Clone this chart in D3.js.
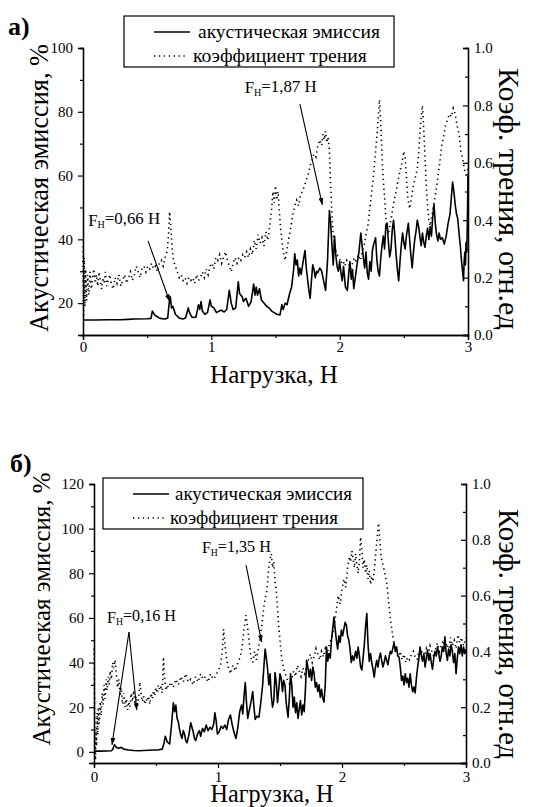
<!DOCTYPE html>
<html>
<head>
<meta charset="utf-8">
<script src="https://cdn.jsdelivr.net/npm/d3@7/dist/d3.min.js"></script>
<style>
  body { margin: 0; background: #fff; }
  svg { display: block; }
</style>
</head>
<body>
<div id="chart"></div>
<script>
// ---- data: [load, value] ----
// panel a: acoustic emission, %
const emissionA = [
  [0,14.7],[0.1,14.7],[0.2,14.8],[0.3,14.8],[0.35,14.9],[0.4,15.0],[0.5,15.1],[0.53,15.2],[0.54,17.5],[0.56,16.2],
  [0.6,15.2],[0.64,15.0],[0.66,15.3],[0.67,19.5],[0.68,22.0],[0.69,18.5],[0.70,19.0],[0.72,16.5],[0.75,15.3],[0.78,15.0],
  [0.80,15.4],[0.82,18.5],[0.83,17.0],[0.85,15.5],[0.88,15.6],[0.90,19.5],[0.91,18.0],[0.92,20.5],[0.93,17.5],[0.95,16.5],
  [0.97,17.0],[0.99,21.0],[1.00,19.0],[1.02,18.5],[1.04,17.0],[1.06,17.5],[1.08,17.8],[1.10,17.2],[1.12,18.0],[1.14,24.0],
  [1.155,20.0],[1.17,18.0],[1.19,18.5],[1.21,26.7],[1.22,23.0],[1.24,22.0],[1.25,20.5],[1.27,21.5],[1.29,19.0],[1.31,20.5],
  [1.33,26.0],[1.34,22.5],[1.35,25.0],[1.36,22.5],[1.375,24.5],[1.39,21.0],[1.41,20.0],[1.43,19.0],[1.45,18.5],[1.47,17.5],
  [1.49,17.0],[1.51,16.5],[1.535,16.3],[1.55,19.5],[1.56,18.0],[1.575,20.0],[1.59,19.5],[1.61,23.0],[1.625,25.0],[1.64,30.0],
  [1.65,35.5],[1.66,32.0],[1.67,33.5],[1.68,28.5],[1.69,31.0],[1.70,29.0],[1.715,33.0],[1.73,36.5],[1.74,31.0],[1.75,27.5],
  [1.76,24.0],[1.77,21.5],[1.78,27.0],[1.79,32.0],[1.80,30.5],[1.81,28.0],[1.82,30.0],[1.83,29.5],[1.845,31.0],[1.86,30.0],
  [1.875,27.0],[1.89,24.0],[1.905,33.0],[1.92,49.0],[1.93,45.0],[1.94,38.0],[1.95,32.0],[1.96,41.0],[1.97,35.0],[1.98,31.5],
  [1.99,30.0],[2.00,33.0],[2.01,29.5],[2.02,27.0],[2.03,31.5],[2.045,25.0],[2.06,24.0],[2.07,29.0],[2.08,33.0],[2.09,27.5],
  [2.10,30.5],[2.11,24.5],[2.12,27.5],[2.135,32.0],[2.15,36.0],[2.165,42.0],[2.175,38.0],[2.185,34.0],[2.195,31.0],[2.205,36.0],
  [2.215,29.5],[2.225,27.5],[2.235,33.0],[2.245,30.0],[2.255,36.5],[2.265,38.5],[2.28,40.5],[2.29,33.5],[2.30,30.0],[2.31,28.5],
  [2.32,34.0],[2.33,38.0],[2.34,41.0],[2.35,37.0],[2.36,44.5],[2.37,45.0],[2.38,39.0],[2.39,34.5],[2.40,37.0],[2.41,43.0],
  [2.42,46.0],[2.43,41.0],[2.44,35.0],[2.45,30.5],[2.46,27.0],[2.47,33.0],[2.48,38.0],[2.49,42.0],[2.50,39.0],[2.51,37.0],
  [2.52,41.0],[2.535,45.0],[2.545,40.0],[2.555,35.0],[2.565,31.0],[2.575,36.0],[2.585,40.0],[2.595,42.5],[2.605,46.0],[2.615,44.0],
  [2.625,41.0],[2.635,38.0],[2.645,42.0],[2.655,39.0],[2.665,37.5],[2.675,41.0],[2.685,43.5],[2.695,40.0],[2.705,44.0],[2.715,41.0],
  [2.725,47.0],[2.735,51.0],[2.745,45.0],[2.755,41.5],[2.765,39.5],[2.775,42.0],[2.785,40.0],[2.80,40.5],[2.815,38.5],[2.83,41.0],
  [2.845,45.0],[2.86,48.0],[2.87,53.0],[2.88,58.0],[2.89,55.0],[2.90,51.0],[2.91,48.0],[2.92,46.5],[2.93,42.0],[2.94,38.0],
  [2.95,33.0],[2.96,29.0],[2.965,27.0],[2.97,33.0],[2.975,36.0],[2.98,32.0],[2.985,39.0],[2.99,36.0],[2.995,45.0],[3.00,60.0]
];
// panel a: friction coefficient
const frictionA = [
  [0,0.31],[0.005,0.06],[0.01,0.27],[0.015,0.10],[0.02,0.23],[0.028,0.12],[0.036,0.21],[0.045,0.14],[0.055,0.22],[0.065,0.16],
  [0.075,0.20],[0.085,0.23],[0.095,0.18],[0.105,0.21],[0.115,0.17],[0.125,0.22],[0.135,0.19],[0.145,0.16],[0.155,0.20],[0.165,0.18],
  [0.175,0.22],[0.185,0.17],[0.195,0.19],[0.21,0.21],[0.22,0.18],[0.235,0.16],[0.25,0.20],[0.265,0.18],[0.28,0.21],[0.295,0.17],
  [0.31,0.19],[0.325,0.21],[0.34,0.18],[0.355,0.20],[0.37,0.22],[0.385,0.19],[0.40,0.21],[0.415,0.24],[0.43,0.22],[0.445,0.20],
  [0.46,0.23],[0.475,0.24],[0.49,0.22],[0.505,0.24],[0.52,0.23],[0.535,0.25],[0.55,0.23],[0.565,0.24],[0.58,0.22],[0.595,0.25],
  [0.61,0.26],[0.625,0.24],[0.64,0.27],[0.655,0.29],[0.665,0.34],[0.675,0.43],[0.685,0.37],[0.695,0.30],[0.705,0.26],[0.72,0.24],
  [0.735,0.22],[0.75,0.20],[0.765,0.21],[0.78,0.19],[0.795,0.20],[0.81,0.18],[0.825,0.20],[0.84,0.19],[0.855,0.20],[0.87,0.18],
  [0.885,0.21],[0.90,0.19],[0.915,0.20],[0.93,0.22],[0.945,0.20],[0.96,0.23],[0.975,0.21],[0.99,0.24],[1.005,0.25],[1.02,0.23],
  [1.035,0.27],[1.05,0.26],[1.065,0.28],[1.08,0.25],[1.095,0.27],[1.11,0.29],[1.125,0.26],[1.14,0.24],[1.155,0.22],[1.17,0.25],
  [1.185,0.27],[1.20,0.25],[1.215,0.27],[1.23,0.26],[1.245,0.28],[1.26,0.27],[1.275,0.29],[1.29,0.27],[1.305,0.30],[1.32,0.28],
  [1.335,0.33],[1.35,0.30],[1.365,0.35],[1.38,0.32],[1.395,0.34],[1.41,0.31],[1.425,0.36],[1.44,0.33],[1.455,0.38],[1.47,0.44],
  [1.48,0.50],[1.49,0.46],[1.50,0.52],[1.51,0.47],[1.52,0.50],[1.53,0.43],[1.54,0.37],[1.55,0.33],[1.56,0.29],[1.575,0.26],
  [1.59,0.30],[1.605,0.34],[1.62,0.38],[1.635,0.42],[1.65,0.45],[1.665,0.47],[1.68,0.45],[1.695,0.49],[1.71,0.50],[1.725,0.52],
  [1.74,0.54],[1.755,0.56],[1.77,0.59],[1.785,0.61],[1.80,0.63],[1.815,0.62],[1.83,0.66],[1.845,0.68],[1.86,0.66],[1.87,0.70],
  [1.88,0.68],[1.89,0.71],[1.90,0.67],[1.91,0.69],[1.92,0.64],[1.93,0.52],[1.94,0.42],[1.95,0.35],[1.965,0.30],[1.98,0.28],
  [1.995,0.27],[2.01,0.25],[2.025,0.26],[2.04,0.24],[2.055,0.26],[2.07,0.25],[2.085,0.23],[2.10,0.25],[2.115,0.27],[2.13,0.25],
  [2.145,0.28],[2.16,0.26],[2.175,0.29],[2.19,0.31],[2.205,0.35],[2.22,0.38],[2.235,0.44],[2.25,0.50],[2.265,0.56],[2.28,0.64],
  [2.295,0.72],[2.31,0.82],[2.32,0.74],[2.33,0.62],[2.34,0.54],[2.35,0.48],[2.36,0.41],[2.37,0.36],[2.38,0.35],[2.395,0.39],
  [2.41,0.43],[2.425,0.47],[2.44,0.50],[2.455,0.54],[2.47,0.57],[2.485,0.60],[2.50,0.64],[2.51,0.62],[2.52,0.55],[2.53,0.48],
  [2.545,0.44],[2.56,0.48],[2.575,0.52],[2.59,0.55],[2.605,0.58],[2.615,0.63],[2.625,0.70],[2.635,0.76],[2.645,0.80],[2.655,0.72],
  [2.665,0.62],[2.675,0.52],[2.685,0.45],[2.695,0.40],[2.705,0.38],[2.72,0.42],[2.735,0.46],[2.75,0.50],[2.765,0.55],[2.78,0.60],
  [2.795,0.66],[2.81,0.69],[2.825,0.73],[2.84,0.75],[2.855,0.77],[2.87,0.76],[2.885,0.79],[2.90,0.77],[2.915,0.73],[2.93,0.70],
  [2.945,0.64],[2.96,0.61],[2.975,0.57],[2.99,0.55],[3.00,0.58]
];
// panel b: acoustic emission, %
const emissionB = [
  [0,0.3],[0.05,0.3],[0.10,0.4],[0.14,0.5],[0.15,1.0],[0.165,3.2],[0.18,2.0],[0.20,1.6],[0.22,2.0],[0.24,1.2],
  [0.28,0.8],[0.32,0.6],[0.36,0.5],[0.40,0.6],[0.44,0.7],[0.48,0.8],[0.52,0.9],[0.55,1.2],[0.565,4.0],[0.575,7.0],
  [0.59,4.5],[0.61,3.5],[0.625,12.0],[0.64,22.0],[0.65,18.0],[0.66,21.0],[0.67,15.0],[0.68,13.5],[0.69,10.0],[0.70,7.5],
  [0.71,6.0],[0.72,9.5],[0.73,8.0],[0.74,5.0],[0.75,4.0],[0.765,7.5],[0.78,13.0],[0.79,11.0],[0.80,9.0],[0.81,6.0],
  [0.82,5.0],[0.835,8.0],[0.85,9.5],[0.86,7.0],[0.875,10.5],[0.89,9.0],[0.905,12.0],[0.92,9.5],[0.935,11.0],[0.95,10.0],
  [0.965,12.5],[0.975,17.5],[0.985,14.0],[0.995,8.0],[1.01,9.0],[1.025,11.5],[1.04,10.5],[1.055,12.0],[1.07,10.0],[1.085,14.5],
  [1.10,16.5],[1.115,12.0],[1.13,8.5],[1.145,6.0],[1.16,11.0],[1.175,18.0],[1.19,21.0],[1.20,17.0],[1.21,25.0],[1.22,31.0],
  [1.23,22.0],[1.24,15.0],[1.25,18.0],[1.265,22.0],[1.28,27.0],[1.29,20.0],[1.30,14.5],[1.315,16.0],[1.33,15.5],[1.345,22.0],
  [1.36,30.0],[1.37,38.0],[1.38,46.0],[1.39,42.0],[1.40,37.0],[1.41,30.0],[1.42,35.0],[1.43,25.0],[1.44,20.0],[1.45,23.0],
  [1.46,35.5],[1.47,31.0],[1.48,22.0],[1.49,28.0],[1.50,35.0],[1.51,33.0],[1.52,27.0],[1.53,32.0],[1.54,30.0],[1.55,22.0],
  [1.565,15.5],[1.575,24.0],[1.585,35.0],[1.595,30.0],[1.605,20.0],[1.615,24.5],[1.625,17.5],[1.635,22.0],[1.645,15.0],[1.655,19.0],
  [1.665,23.0],[1.675,16.5],[1.685,21.0],[1.695,18.0],[1.705,28.0],[1.715,41.0],[1.725,38.0],[1.735,33.5],[1.745,37.0],[1.755,32.0],
  [1.765,38.0],[1.775,35.0],[1.785,29.0],[1.795,31.0],[1.805,27.0],[1.815,30.0],[1.825,24.5],[1.835,28.0],[1.845,24.0],[1.855,22.3],
  [1.865,30.0],[1.875,47.0],[1.885,40.6],[1.895,44.0],[1.905,42.0],[1.915,50.0],[1.925,55.0],[1.935,60.4],[1.945,55.0],[1.955,50.0],
  [1.965,46.0],[1.975,52.0],[1.985,49.0],[1.995,54.6],[2.005,52.0],[2.015,55.0],[2.025,58.0],[2.035,57.0],[2.045,52.0],[2.055,50.0],
  [2.065,46.0],[2.075,40.0],[2.085,43.0],[2.095,41.0],[2.11,45.0],[2.12,42.0],[2.13,47.0],[2.14,43.0],[2.15,38.0],[2.16,36.7],
  [2.17,42.0],[2.18,48.0],[2.19,56.0],[2.20,62.0],[2.21,48.0],[2.22,40.5],[2.23,44.0],[2.24,40.0],[2.25,37.0],[2.26,33.5],
  [2.27,38.0],[2.28,41.0],[2.29,38.0],[2.30,42.0],[2.31,44.3],[2.32,41.0],[2.33,38.0],[2.34,40.0],[2.35,43.0],[2.36,41.0],
  [2.37,39.0],[2.38,42.5],[2.39,45.0],[2.40,44.0],[2.41,46.5],[2.42,48.8],[2.43,45.0],[2.44,47.0],[2.45,43.0],[2.46,42.5],
  [2.47,38.0],[2.48,32.0],[2.49,34.0],[2.50,30.0],[2.51,35.0],[2.52,31.0],[2.53,33.0],[2.54,29.0],[2.55,35.0],[2.56,30.0],
  [2.57,27.0],[2.58,29.0],[2.59,26.4],[2.60,33.0],[2.61,38.0],[2.62,42.0],[2.63,47.0],[2.64,43.0],[2.65,40.6],[2.66,44.0],
  [2.67,38.0],[2.68,42.0],[2.69,45.6],[2.70,41.0],[2.71,44.0],[2.72,40.0],[2.73,37.0],[2.74,42.0],[2.75,45.0],[2.76,43.0],
  [2.77,47.0],[2.78,44.0],[2.79,40.6],[2.80,43.0],[2.81,47.0],[2.82,45.0],[2.83,51.5],[2.84,44.3],[2.85,41.0],[2.86,46.0],
  [2.87,43.0],[2.88,48.0],[2.89,45.0],[2.90,40.0],[2.91,44.0],[2.92,35.0],[2.93,42.0],[2.94,47.0],[2.95,44.0],[2.96,48.0],
  [2.97,43.0],[2.98,47.0],[2.99,44.0],[3.00,46.0]
];
// panel b: friction coefficient
const frictionB = [
  [0,0.41],[0.004,0.25],[0.008,0.05],[0.012,0.01],[0.016,0.12],[0.02,0.06],[0.025,0.18],[0.03,0.10],[0.035,0.20],[0.042,0.14],
  [0.05,0.22],[0.058,0.17],[0.066,0.25],[0.074,0.21],[0.082,0.28],[0.09,0.23],[0.098,0.30],[0.106,0.26],[0.114,0.31],[0.122,0.28],
  [0.13,0.33],[0.14,0.30],[0.15,0.36],[0.16,0.34],[0.17,0.37],[0.18,0.32],[0.19,0.27],[0.20,0.30],[0.21,0.24],[0.22,0.27],
  [0.23,0.21],[0.24,0.25],[0.25,0.20],[0.26,0.23],[0.27,0.19],[0.28,0.22],[0.29,0.20],[0.30,0.25],[0.31,0.22],[0.32,0.26],
  [0.33,0.21],[0.34,0.24],[0.35,0.20],[0.36,0.23],[0.37,0.29],[0.38,0.25],[0.39,0.22],[0.40,0.24],[0.41,0.21],[0.42,0.23],
  [0.43,0.22],[0.44,0.24],[0.45,0.21],[0.46,0.25],[0.47,0.23],[0.48,0.26],[0.49,0.24],[0.50,0.27],[0.51,0.25],[0.52,0.28],
  [0.53,0.26],[0.54,0.27],[0.55,0.25],[0.56,0.38],[0.57,0.30],[0.58,0.26],[0.59,0.28],[0.60,0.27],[0.62,0.29],[0.64,0.27],
  [0.66,0.30],[0.68,0.28],[0.70,0.31],[0.72,0.29],[0.74,0.32],[0.76,0.29],[0.78,0.30],[0.80,0.28],[0.82,0.31],[0.84,0.29],
  [0.86,0.32],[0.88,0.30],[0.90,0.31],[0.92,0.29],[0.94,0.32],[0.96,0.30],[0.98,0.31],[1.00,0.33],[1.02,0.35],[1.035,0.40],
  [1.045,0.48],[1.055,0.43],[1.07,0.37],[1.085,0.34],[1.10,0.32],[1.12,0.35],[1.14,0.33],[1.16,0.36],[1.18,0.38],[1.195,0.42],
  [1.21,0.48],[1.225,0.53],[1.235,0.50],[1.25,0.44],[1.265,0.38],[1.28,0.36],[1.295,0.40],[1.31,0.37],[1.325,0.41],[1.34,0.45],
  [1.355,0.50],[1.37,0.56],[1.385,0.60],[1.395,0.62],[1.405,0.68],[1.415,0.72],[1.43,0.75],[1.44,0.70],[1.45,0.72],[1.46,0.65],
  [1.47,0.62],[1.48,0.55],[1.49,0.49],[1.50,0.44],[1.51,0.39],[1.52,0.36],[1.535,0.33],[1.55,0.31],[1.565,0.29],[1.58,0.28],
  [1.595,0.30],[1.61,0.33],[1.625,0.31],[1.64,0.35],[1.655,0.33],[1.67,0.31],[1.685,0.34],[1.70,0.32],[1.715,0.35],[1.73,0.37],
  [1.745,0.39],[1.76,0.36],[1.775,0.38],[1.79,0.41],[1.805,0.39],[1.82,0.37],[1.835,0.40],[1.85,0.38],[1.865,0.41],[1.88,0.39],
  [1.895,0.42],[1.91,0.44],[1.925,0.46],[1.94,0.50],[1.955,0.55],[1.97,0.60],[1.985,0.57],[2.00,0.62],[2.015,0.66],[2.03,0.63],
  [2.045,0.70],[2.06,0.74],[2.07,0.72],[2.08,0.76],[2.09,0.73],[2.10,0.70],[2.11,0.75],[2.12,0.71],[2.13,0.68],[2.14,0.72],
  [2.15,0.81],[2.16,0.76],[2.17,0.70],[2.18,0.73],[2.19,0.68],[2.20,0.71],[2.21,0.66],[2.22,0.69],[2.23,0.64],[2.24,0.67],
  [2.25,0.65],[2.26,0.69],[2.27,0.74],[2.28,0.79],[2.295,0.86],[2.305,0.80],[2.315,0.74],[2.325,0.72],[2.335,0.70],[2.345,0.68],
  [2.355,0.66],[2.365,0.63],[2.375,0.58],[2.385,0.54],[2.395,0.50],[2.405,0.47],[2.415,0.44],[2.425,0.41],[2.44,0.39],[2.455,0.38],
  [2.47,0.40],[2.485,0.37],[2.50,0.39],[2.515,0.36],[2.53,0.38],[2.545,0.37],[2.56,0.39],[2.575,0.40],[2.59,0.38],[2.605,0.37],
  [2.62,0.40],[2.635,0.41],[2.65,0.39],[2.665,0.38],[2.68,0.41],[2.695,0.39],[2.71,0.42],[2.725,0.40],[2.74,0.38],[2.755,0.41],
  [2.77,0.43],[2.785,0.40],[2.80,0.42],[2.815,0.44],[2.83,0.41],[2.845,0.43],[2.86,0.40],[2.875,0.45],[2.89,0.42],[2.905,0.44],
  [2.92,0.41],[2.935,0.46],[2.95,0.43],[2.965,0.45],[2.98,0.42],[3.00,0.45]
];

const seriesNames = ["акустическая эмиссия", "коэффициент трения"];
const loadTicks = [0, 1, 2, 3];
const frictionTicks = [0.0, 0.2, 0.4, 0.6, 0.8, 1.0];

// annotations, in (load, emission %) units: label point, arrow start, arrow tips
const notesA = [
  { value: "1,87", label: [1.26, 85.8], from: [1.69, 82.4], to: [[1.865, 50.8]] },
  { value: "0,66", label: [0.04, 44.2], from: [0.507, 39.5], to: [[0.675, 20.5]] }
];
const notesB = [
  { value: "1,35", label: [0.87, 89.0], from: [1.226, 83.7], to: [[1.352, 49.2]] },
  { value: "0,16", label: [0.105, 57.7], from: [0.282, 53.7], to: [[0.145, 3.1], [0.345, 18.7]] }
];

const SERIF = "Liberation Serif";
const W = 533, H = 807;
const svg = d3.select("#chart").append("svg").attr("width", W).attr("height", H)
  .attr("font-family", SERIF);

svg.append("defs").append("marker")
  .attr("id", "arrow")
  .attr("viewBox", "0 0 10 10")
  .attr("refX", 10).attr("refY", 5)
  .attr("markerWidth", 7).attr("markerHeight", 7)
  .attr("markerUnits", "userSpaceOnUse")
  .attr("orient", "auto")
  .append("path").attr("d", "M0,1.5L10,5L0,8.5Z").attr("fill", "#000");

function label(parent, size) {
  return parent.append("text").attr("font-family", SERIF).attr("font-size", size).attr("fill", "#000");
}
// scale a text's font so that its run has the given length
function fit(sel, len) {
  const now = sel.node().getComputedTextLength();
  sel.attr("font-size", +sel.attr("font-size") * len / now);
  return sel;
}

function drawPanel(p) {
  const x = d3.scaleLinear().domain([0, 3]).range([p.left, p.right]);
  const yL = d3.scaleLinear().domain(p.emissionDomain).range([p.bottom, p.top]);
  const yR = d3.scaleLinear().domain([0, 1]).range([p.bottom, p.top]);
  const g = svg.append("g");

  // bottom axis: major + minor ticks
  g.append("g").attr("class", "ax")
    .attr("transform", `translate(0,${p.bottom})`)
    .call(d3.axisBottom(x).tickValues(d3.range(0.5, 3, 1)).tickSize(3).tickFormat(""));
  g.append("g").attr("class", "ax lab")
    .attr("transform", `translate(0,${p.bottom})`)
    .call(d3.axisBottom(x).tickValues(loadTicks).tickSize(5).tickPadding(p.xPad).tickFormat(d3.format("d")));

  // left axis
  g.append("g").attr("class", "ax")
    .attr("transform", `translate(${p.left},0)`)
    .call(d3.axisLeft(yL).tickValues(p.minorTicks).tickSize(3).tickFormat(""));
  g.append("g").attr("class", "ax lab")
    .attr("transform", `translate(${p.left},0)`)
    .call(d3.axisLeft(yL).tickValues(p.emissionTicks).tickSize(5).tickPadding(5).tickFormat(d3.format("d")));

  // right axis, ticks point inward
  g.append("g").attr("class", "ax")
    .attr("transform", `translate(${p.right},0)`)
    .call(d3.axisRight(yR).tickValues(d3.range(0.1, 1, 0.2)).tickSize(-3).tickFormat(""));
  g.append("g").attr("class", "ax lab")
    .attr("transform", `translate(${p.right},0)`)
    .call(d3.axisRight(yR).tickValues(frictionTicks).tickSize(-5).tickPadding(6).tickFormat(d3.format(".1f")));

  g.selectAll(".ax").attr("font-family", SERIF).attr("font-size", 15);
  g.selectAll(".ax path.domain").attr("stroke", "#000").attr("stroke-width", 1.3);
  g.selectAll(".ax line").attr("stroke", "#000").attr("stroke-width", 1.2);
  g.selectAll(".lab text").attr("fill", "#000").attr("font-family", SERIF);

  // series
  const lineE = d3.line().x(d => x(d[0])).y(d => yL(d[1]));
  const lineF = d3.line().x(d => x(d[0])).y(d => yR(d[1]));
  g.append("path").datum(p.friction).attr("d", lineF)
    .attr("fill", "none").attr("stroke", "#000").attr("stroke-width", 1.6)
    .attr("stroke-dasharray", "1.3,3.6");
  g.append("path").datum(p.emission).attr("d", lineE)
    .attr("fill", "none").attr("stroke", "#000").attr("stroke-width", 1.6)
    .attr("stroke-linejoin", "round");

  // annotations
  p.notes.forEach(n => {
    const t = label(g, 17).attr("x", x(n.label[0])).attr("y", yL(n.label[1]));
    t.append("tspan").text("F");
    t.append("tspan").attr("font-size", "0.6em").attr("dy", "0.25em").text("Н");
    t.append("tspan").attr("dy", "-0.25em").text("=" + n.value + " Н");
    fit(t, p.noteLen);
    n.to.forEach(tip => {
      g.append("line")
        .attr("x1", x(n.from[0])).attr("y1", yL(n.from[1]))
        .attr("x2", x(tip[0])).attr("y2", yL(tip[1]))
        .attr("stroke", "#000").attr("stroke-width", 1.1)
        .attr("marker-end", "url(#arrow)");
    });
  });

  // legend
  const lg = g.append("g").attr("transform", `translate(${p.legend[0]},${p.legend[1]})`);
  lg.append("rect").attr("width", p.legend[2]).attr("height", 51)
    .attr("fill", "#fff").attr("stroke", "#000").attr("stroke-width", 1.2);
  lg.append("line").attr("x1", 30).attr("x2", 66).attr("y1", 16).attr("y2", 16)
    .attr("stroke", "#000").attr("stroke-width", 1.6);
  lg.append("line").attr("x1", 30).attr("x2", 64).attr("y1", 40).attr("y2", 40)
    .attr("stroke", "#000").attr("stroke-width", 1.6).attr("stroke-dasharray", "1.3,3.6");
  fit(label(lg, 19).attr("x", p.legendText[0]).attr("y", 22).text(seriesNames[0]), p.legendLen[0]);
  fit(label(lg, 19).attr("x", p.legendText[1]).attr("y", 46).text(seriesNames[1]), p.legendLen[1]);

  // titles
  label(g, 26).attr("x", p.tag[0]).attr("y", p.tag[1]).attr("font-weight", "bold").text(p.tagText);
  fit(label(g, 22).attr("transform", `translate(${p.leftTitle[0]},${p.leftTitle[1]}) rotate(-90)`)
    .attr("text-anchor", "middle").text("Акустическая эмиссия, %"), p.leftTitle[2]);
  fit(label(g, 22).attr("transform", `translate(${p.rightTitle[0]},${p.rightTitle[1]}) rotate(90)`)
    .attr("text-anchor", "middle").text("Коэф. трения, отн.ед"), p.rightTitle[2]);
  fit(label(g, 22).attr("x", p.xTitle[0]).attr("y", p.xTitle[1])
    .attr("text-anchor", "middle").text("Нагрузка, Н"), p.xTitle[2]);
}

drawPanel({
  left: 83, right: 468, top: 48, bottom: 335,
  emissionDomain: [10, 100], emissionTicks: [20, 40, 60, 80, 100], minorTicks: [30, 50, 70, 90],
  emission: emissionA, friction: frictionA, notes: notesA, noteLen: 72,
  xPad: 1, legend: [124, 16, 270], legendText: [74, 69], legendLen: [182, 174],
  tag: [8, 35], tagText: "а)",
  leftTitle: [48, 188, 288], rightTitle: [499, 199, 262], xTitle: [274, 383, 128]
});

drawPanel({
  left: 94, right: 466, top: 484, bottom: 763,
  emissionDomain: [-5, 120], emissionTicks: [0, 20, 40, 60, 80, 100, 120], minorTicks: [10, 30, 50, 70, 90, 110],
  emission: emissionB, friction: frictionB, notes: notesB, noteLen: 69,
  xPad: 3, legend: [103, 478, 260], legendText: [72, 67], legendLen: [177, 168],
  tag: [10, 472], tagText: "б)",
  leftTitle: [50, 609, 273], rightTitle: [499, 634, 250], xTitle: [272, 802, 123]
});
</script>
</body>
</html>
